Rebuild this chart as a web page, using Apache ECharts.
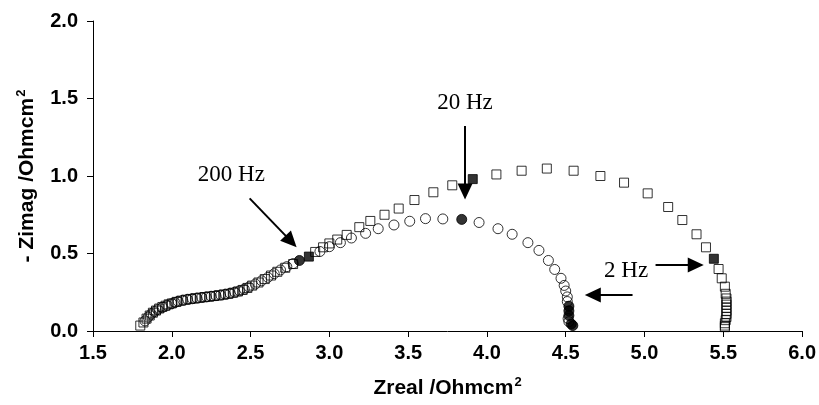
<!DOCTYPE html>
<html>
<head>
<meta charset="utf-8">
<script src="https://cdn.jsdelivr.net/npm/echarts@6/dist/echarts.min.js"></script>
<style>
html,body{margin:0;padding:0;background:#fff;}
#chart{width:819px;height:405px;}
</style>
</head>
<body>
<div id="chart"></div>
<script>
// ---- data (Zreal, -Zimag) in Ohm cm^2 ----
const squareOpen = [
  [1.80,0.035],[1.82,0.055],[1.84,0.08],[1.86,0.10],[1.88,0.118],[1.90,0.132],[1.92,0.145],
  [1.94,0.155],[1.96,0.163],[1.98,0.172],[2.00,0.178],[2.03,0.188],[2.06,0.196],[2.09,0.202],
  [2.12,0.207],[2.15,0.211],[2.18,0.215],[2.21,0.219],[2.24,0.222],[2.27,0.226],[2.30,0.230],
  [2.33,0.235],[2.36,0.240],[2.39,0.247],[2.42,0.255],[2.45,0.265],[2.48,0.278],[2.51,0.293],
  [2.55,0.313],[2.59,0.335],[2.63,0.358],[2.67,0.382],[2.72,0.408],[2.77,0.432],
  [2.91,0.51],[2.96,0.54],[3.00,0.565],[3.05,0.59],[3.11,0.62],[3.19,0.67],[3.26,0.71],
  [3.35,0.75],[3.44,0.79],[3.54,0.845],[3.66,0.895],[3.78,0.94],
  [4.06,1.01],[4.22,1.034],[4.38,1.048],[4.55,1.034],[4.72,1.00],[4.87,0.957],[5.02,0.888],
  [5.15,0.80],[5.24,0.716],[5.33,0.624],[5.39,0.54],
  [5.47,0.40],[5.49,0.34],[5.51,0.286],[5.515,0.24],[5.52,0.21],[5.52,0.19],[5.52,0.17],
  [5.52,0.15],[5.52,0.13],[5.52,0.11],[5.52,0.09],[5.515,0.07],[5.51,0.05],[5.51,0.035],[5.51,0.025]
];
const squareFilled = [[2.87,0.48],[3.91,0.98],[5.44,0.466]];

const circleOpen = [
  [1.83,0.065],[1.85,0.09],[1.87,0.11],[1.89,0.125],[1.91,0.138],[1.94,0.152],[1.97,0.166],
  [2.00,0.177],[2.02,0.184],[2.04,0.191],[2.07,0.198],[2.10,0.204],[2.13,0.208],[2.16,0.212],
  [2.19,0.216],[2.22,0.220],[2.25,0.224],[2.28,0.228],[2.31,0.232],[2.34,0.237],[2.37,0.243],
  [2.40,0.250],[2.43,0.259],[2.46,0.270],[2.49,0.284],[2.53,0.303],[2.57,0.324],[2.61,0.346],
  [2.65,0.370],[2.69,0.394],[2.73,0.415],[2.77,0.435],
  [2.94,0.513],[3.00,0.544],[3.07,0.57],[3.14,0.60],[3.23,0.63],[3.31,0.66],[3.41,0.684],
  [3.51,0.708],[3.61,0.725],[3.72,0.723],
  [3.95,0.70],[4.07,0.66],[4.16,0.624],[4.26,0.57],[4.33,0.52],[4.39,0.455],[4.43,0.397],
  [4.47,0.34],[4.49,0.294],[4.50,0.258],[4.51,0.22],[4.51,0.19],[4.515,0.08],[4.52,0.06]
];
const circleFilled = [[2.81,0.455],[3.84,0.72],[4.52,0.16],[4.52,0.13],[4.52,0.10],[4.535,0.045],[4.545,0.035]];

const xTicks = [1.5, 6.0, 0.5];   // min, max, step
const yTicks = [0.0, 2.0, 0.5];

// annotations: [label, x, y]
const labels = [["20 Hz",3.861,1.47],["200 Hz",2.378,1.006],["2 Hz",4.883,0.387]];
// arrows: [x1, y1, x2, y2]
const arrows = [
  [3.861,1.323,3.861,0.900],
  [2.494,0.856,2.757,0.578],
  [5.070,0.426,5.325,0.426],
  [4.924,0.232,4.672,0.232]
];

const chart = echarts.init(document.getElementById('chart'), null, {renderer:'canvas'});
const sans = "'Liberation Sans', Arial, sans-serif";
const serif = "'Liberation Serif', 'Times New Roman', serif";
const tickFont = {color:'#000', fontFamily:sans, fontWeight:'bold', fontSize:20};

const axisCommon = {
  type:'value',
  splitLine:{show:false},
  axisLine:{show:true, onZero:false, lineStyle:{color:'#000', width:1}},
  axisTick:{show:true, inside:false, length:6, lineStyle:{color:'#000'}},
  axisLabel:Object.assign({formatter: v => v.toFixed(1)}, tickFont)
};

const titleRich = {
  t:{fontFamily:sans, fontWeight:'bold', fontSize:21, color:'#000'},
  s:{fontFamily:sans, fontWeight:'bold', fontSize:13, color:'#000', verticalAlign:'top', padding:[0,0,11,1]}
};

chart.setOption({
  animation:false,
  backgroundColor:'#fff',
  grid:{left:93, right:15, top:21, bottom:74, containLabel:false},
  xAxis:Object.assign({}, axisCommon, {
    min:xTicks[0], max:xTicks[1], interval:xTicks[2],
    axisLabel:Object.assign({}, axisCommon.axisLabel, {margin:12}),
    name:'{t|Zreal /Ohmcm}{s|2}', nameLocation:'middle', nameGap:45,
    nameTextStyle:{rich:titleRich}
  }),
  yAxis:Object.assign({}, axisCommon, {
    min:yTicks[0], max:yTicks[1], interval:yTicks[2],
    axisLabel:Object.assign({}, axisCommon.axisLabel, {margin:15}),
    name:'{t|- Zimag /Ohmcm}{s|2}', nameLocation:'middle', nameGap:54, nameRotate:90,
    nameTextStyle:{rich:titleRich}
  }),
  series:[
    {type:'scatter', data:squareOpen, symbol:'rect', symbolSize:9,
     itemStyle:{color:'rgba(255,255,255,0)', borderColor:'#000', borderWidth:1}, z:2},
    {type:'scatter', data:circleOpen, symbol:'circle', symbolSize:10,
     itemStyle:{color:'rgba(255,255,255,0)', borderColor:'#000', borderWidth:1}, z:2,
     markLine:{
       silent:true, animation:false,
       symbol:['none','triangle'], symbolSize:[15,16],
       lineStyle:{color:'#000', width:2, type:'solid'},
       label:{show:false},
       emphasis:{disabled:true},
       data:arrows.map(a => [{coord:[a[0],a[1]]},{coord:[a[2],a[3]]}])
     },
     markPoint:{
       silent:true, animation:false,
       symbol:'circle', symbolSize:0,
       label:{show:true, position:'inside', color:'#000', fontFamily:serif, fontSize:23,
              formatter: p => p.name},
       data:labels.map(l => ({name:l[0], coord:[l[1],l[2]]}))
     }
    },
    {type:'scatter', data:squareFilled, symbol:'rect', symbolSize:9,
     itemStyle:{color:'#000', borderColor:'#000', borderWidth:1}, z:3},
    {type:'scatter', data:circleFilled, symbol:'circle', symbolSize:10,
     itemStyle:{color:'#000', borderColor:'#000', borderWidth:1}, z:3}
  ]
});
</script>
</body>
</html>
